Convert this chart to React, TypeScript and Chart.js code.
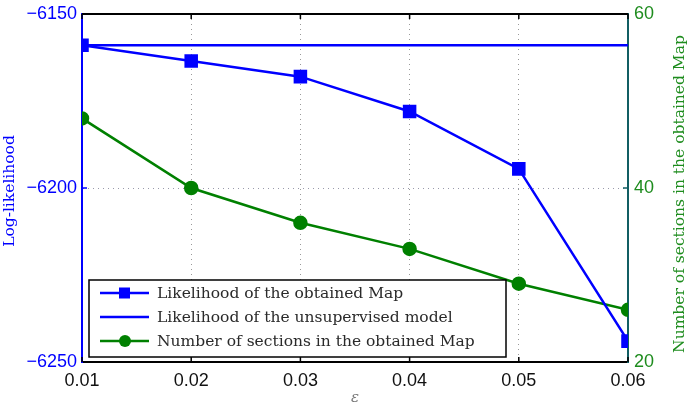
import React, { useEffect, useRef } from 'react';
import { Chart, registerables } from 'chart.js';

Chart.register(...registerables);

const epsilons = [0.01, 0.02, 0.03, 0.04, 0.05, 0.06];
const obtainedLikelihood = [-6159, -6163.5, -6168, -6178, -6194.5, -6244];
const unsupervisedLikelihood = [-6159, -6159, -6159, -6159, -6159, -6159];
const sectionCounts = [48, 40, 36, 33, 29, 26];
const seriesLabels = [
  'Likelihood of the obtained Map',
  'Likelihood of the unsupervised model',
  'Number of sections in the obtained Map',
];
const leftTitle = 'Log-likelihood';
const rightTitle = 'Number of sections in the obtained Map';
const xTitle = 'ε';

const BLUE = '#0000ff';
const GREEN = '#008000';
const GREEN_TEXT = '#1e8c1e';
const TEAL = '#115e63';
const SANS = '"Liberation Sans", Arial, sans-serif';
const SERIF = '"DejaVu Serif", "Liberation Serif", serif';

const decor = {
  id: 'decor',
  beforeDatasetsDraw(chart: any) {
    const { ctx, chartArea: a, scales } = chart;
    ctx.save();
    ctx.strokeStyle = '#000';
    ctx.lineWidth = 2;
    ctx.beginPath();
    ctx.moveTo(a.left, a.top);
    ctx.lineTo(a.right, a.top);
    ctx.stroke();
    ctx.lineWidth = 1.5;
    epsilons.forEach((e) => {
      const px = scales.x.getPixelForValue(e);
      ctx.beginPath();
      ctx.moveTo(px, a.bottom);
      ctx.lineTo(px, a.bottom - 5);
      ctx.moveTo(px, a.top);
      ctx.lineTo(px, a.top + 5);
      ctx.stroke();
    });
    const yl = scales.y.getPixelForValue(-6200);
    ctx.strokeStyle = BLUE;
    ctx.beginPath();
    ctx.moveTo(a.left, yl);
    ctx.lineTo(a.left + 5, yl);
    ctx.stroke();
    const yr = scales.y1.getPixelForValue(40);
    ctx.strokeStyle = TEAL;
    ctx.beginPath();
    ctx.moveTo(a.right, yr);
    ctx.lineTo(a.right - 5, yr);
    ctx.stroke();
    ctx.restore();
  },
  afterDraw(chart: any) {
    const { ctx, chartArea: a } = chart;
    ctx.save();
    const bx = 89, by = 280, bw = 417, bh = 77;
    ctx.fillStyle = '#fff';
    ctx.fillRect(bx, by, bw, bh);
    ctx.strokeStyle = '#000';
    ctx.lineWidth = 1.5;
    ctx.strokeRect(bx, by, bw, bh);
    const rows = [293, 317, 341];
    chart.data.datasets.forEach((ds: any, i: number) => {
      const y = rows[i];
      ctx.strokeStyle = ds.borderColor;
      ctx.lineWidth = 2.5;
      ctx.beginPath();
      ctx.moveTo(100, y);
      ctx.lineTo(149, y);
      ctx.stroke();
      ctx.fillStyle = ds.borderColor;
      if (ds.pointStyle === 'rect' && ds.pointRadius > 0) {
        ctx.fillRect(119, y - 5.5, 11, 11);
      } else if (ds.pointStyle === 'circle' && ds.pointRadius > 0) {
        ctx.beginPath();
        ctx.arc(125, y, 6, 0, Math.PI * 2);
        ctx.fill();
      }
      ctx.fillStyle = '#2a2a2a';
      ctx.font = '15.5px ' + SERIF;
      ctx.textBaseline = 'middle';
      ctx.textAlign = 'left';
      ctx.fillText(ds.label, 157, y + 1);
    });
    ctx.font = '15.5px ' + SERIF;
    ctx.textAlign = 'center';
    ctx.textBaseline = 'middle';
    ctx.fillStyle = BLUE;
    ctx.save();
    ctx.translate(10, 191);
    ctx.rotate(-Math.PI / 2);
    ctx.fillText(leftTitle, 0, 0);
    ctx.restore();
    ctx.fillStyle = GREEN_TEXT;
    ctx.save();
    ctx.translate(680, 194);
    ctx.rotate(-Math.PI / 2);
    ctx.fillText(rightTitle, 0, 0);
    ctx.restore();
    ctx.fillStyle = '#777';
    ctx.font = 'italic 15px ' + SERIF;
    ctx.fillText(xTitle, (a.left + a.right) / 2, 398);
    ctx.restore();
  },
};

const fixV = (w: number) => (s: any) => {
  s.width = w;
  s.paddingTop = 0;
  s.paddingBottom = 0;
};

export default function App() {
  const ref = useRef<HTMLCanvasElement>(null);
  useEffect(() => {
    const canvas = ref.current;
    if (!canvas) return;
    const chart = new Chart(canvas, {
      type: 'line',
      data: {
        datasets: [
          {
            label: seriesLabels[0],
            data: epsilons.map((e, i) => ({ x: e, y: obtainedLikelihood[i] })),
            borderColor: BLUE,
            backgroundColor: BLUE,
            borderWidth: 2.5,
            pointStyle: 'rect',
            pointRadius: 7.8,
            pointHoverRadius: 7.8,
            yAxisID: 'y',
          },
          {
            label: seriesLabels[1],
            data: epsilons.map((e, i) => ({ x: e, y: unsupervisedLikelihood[i] })),
            borderColor: BLUE,
            backgroundColor: BLUE,
            borderWidth: 2.5,
            pointStyle: 'line',
            pointRadius: 0,
            yAxisID: 'y',
          },
          {
            label: seriesLabels[2],
            data: epsilons.map((e, i) => ({ x: e, y: sectionCounts[i] })),
            borderColor: GREEN,
            backgroundColor: GREEN,
            borderWidth: 2.5,
            pointStyle: 'circle',
            pointRadius: 6,
            pointHoverRadius: 6,
            yAxisID: 'y1',
          },
        ],
      },
      options: {
        responsive: false,
        animation: false,
        devicePixelRatio: 1,
        layout: { padding: { top: 14, left: 0, right: 0, bottom: 0 } },
        plugins: { legend: { display: false }, tooltip: { enabled: false } },
        scales: {
          x: {
            type: 'linear',
            min: 0.01,
            max: 0.06,
            afterFit: (s: any) => {
              s.height = 50;
              s.paddingLeft = 0;
              s.paddingRight = 0;
            },
            ticks: {
              stepSize: 0.01,
              color: '#111',
              font: { family: SANS, size: 18 },
              padding: 8,
              maxRotation: 0,
              callback: (v: any) => Number(v).toFixed(2),
            },
            grid: { color: '#999', lineWidth: 1, drawTicks: false },
            border: { color: '#000', width: 2, dash: [1, 4] },
          },
          y: {
            type: 'linear',
            position: 'left',
            min: -6250,
            max: -6150,
            afterFit: fixV(82),
            ticks: {
              stepSize: 50,
              color: BLUE,
              font: { family: SANS, size: 18 },
              padding: 5,
              callback: (v: any) => String(v).replace('-', '\u2212'),
            },
            grid: { color: '#99a', lineWidth: 1, drawTicks: false },
            border: { color: BLUE, width: 2, dash: [1, 4] },
          },
          y1: {
            type: 'linear',
            position: 'right',
            min: 20,
            max: 60,
            afterFit: fixV(62),
            ticks: {
              stepSize: 20,
              color: GREEN_TEXT,
              font: { family: SANS, size: 18 },
              padding: 6,
            },
            grid: { drawOnChartArea: false, drawTicks: false },
            border: { color: TEAL, width: 2 },
          },
        },
      },
      plugins: [decor],
    } as any);
    return () => chart.destroy();
  }, []);
  return (
    <div style={{ position: 'fixed', left: 0, top: 0, width: 690, height: 412, background: '#fff' }}>
      <canvas ref={ref} width={690} height={412} style={{ display: 'block' }} />
    </div>
  );
}
